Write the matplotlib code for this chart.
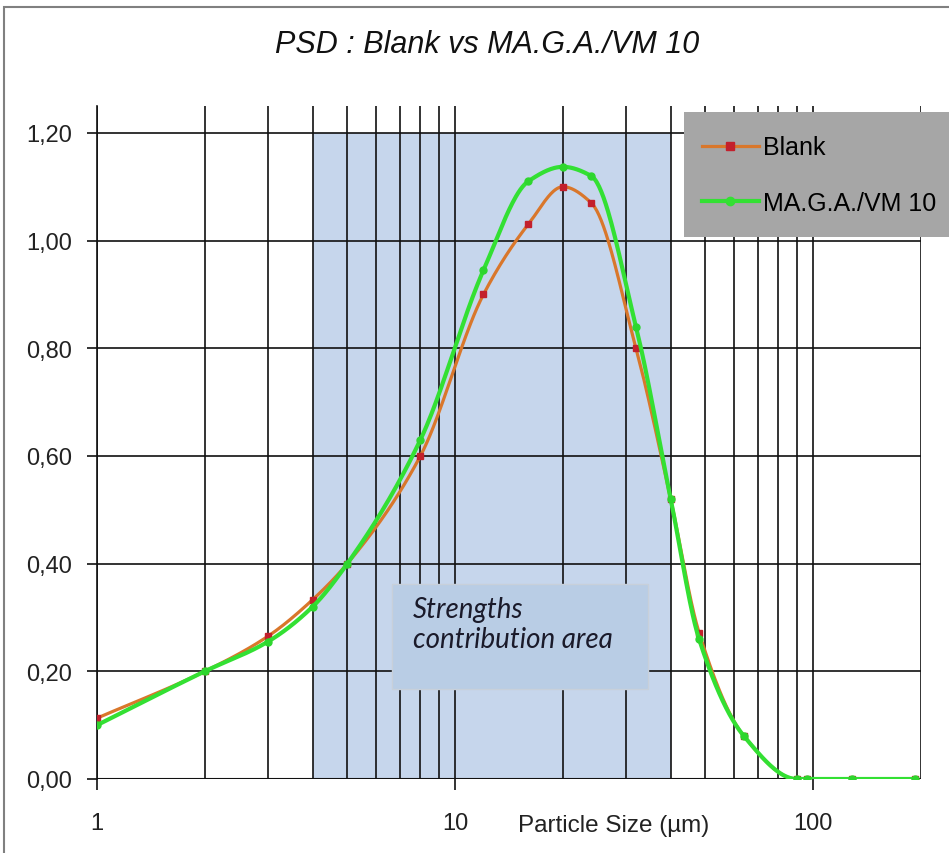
import numpy as np
import matplotlib
matplotlib.use("Agg")
import matplotlib.pyplot as plt
from matplotlib.patches import Rectangle
from matplotlib.ticker import FixedLocator, NullFormatter, FuncFormatter

# particle sizes (µm) and PSD values
sizes = [1, 2, 3, 4, 5, 8, 12, 16, 20, 24, 32, 40, 48, 64, 90, 96, 128, 192]
blank = [0.113, 0.20, 0.265, 0.333, 0.40, 0.60, 0.90, 1.03, 1.10, 1.07,
         0.80, 0.52, 0.272, 0.08, 0.0, 0.0, 0.0, 0.0]
maga = [0.100, 0.20, 0.255, 0.320, 0.40, 0.63, 0.945, 1.11, 1.137, 1.12,
        0.84, 0.52, 0.260, 0.08, 0.0, 0.0, 0.0, 0.0]

y_ticks = [0.0, 0.2, 0.4, 0.6, 0.8, 1.0, 1.2]
x_major = [1, 10, 100]
x_grid = [1, 2, 3, 4, 5, 6, 7, 8, 9, 10, 20, 30, 40, 50, 60, 70, 80, 90, 100, 200]
zone = (4, 40)

plt.rcParams['font.family'] = ['Liberation Sans', 'DejaVu Sans']


def smooth(xs, ys, n=40):
    # monotone cubic (pchip) through the points, in log-x space
    x = np.log10(np.asarray(xs, float))
    y = np.asarray(ys, float)
    h = np.diff(x)
    d = np.diff(y) / h
    m = np.zeros_like(y)
    for i in range(1, len(y) - 1):
        if d[i - 1] * d[i] > 0:
            w1 = 2 * h[i] + h[i - 1]
            w2 = h[i] + 2 * h[i - 1]
            m[i] = (w1 + w2) / (w1 / d[i - 1] + w2 / d[i])
    m[0], m[-1] = d[0], d[-1]
    out_x, out_y = [], []
    for i in range(len(x) - 1):
        t = np.linspace(0, 1, n, endpoint=False)
        h00 = 2 * t ** 3 - 3 * t ** 2 + 1
        h10 = t ** 3 - 2 * t ** 2 + t
        h01 = -2 * t ** 3 + 3 * t ** 2
        h11 = t ** 3 - t ** 2
        out_x.extend(x[i] + t * h[i])
        out_y.extend(h00 * y[i] + h10 * h[i] * m[i] + h01 * y[i + 1] + h11 * h[i] * m[i + 1])
    out_x.append(x[-1])
    out_y.append(y[-1])
    return 10 ** np.array(out_x), np.array(out_y)


fig = plt.figure(figsize=(9.49, 8.54), dpi=100)
ax = fig.add_axes([97 / 949, 1 - 780 / 854, (921 - 97) / 949, (780 - 107) / 854])
ax.set_xscale('log')
ax.set_xlim(1, 200)
ax.set_ylim(0, 1.25)

# outer frame of the picture
fig.patches.append(Rectangle((4 / 949, -0.05), 2, 1 - 8 / 854 + 0.05,
                             transform=fig.transFigure, fill=False,
                             edgecolor='#808080', lw=1.5))

# shaded strength zone
ax.add_patch(Rectangle((zone[0], 0), zone[1] - zone[0], 1.2,
                       facecolor='#c6d6ec', edgecolor='none', zorder=0.2))

# grid
for xv in x_grid:
    ax.axvline(xv, color='#111111', lw=1.2, zorder=0.5)
for yv in y_ticks[1:]:
    ax.axhline(yv, color='#111111', lw=1.2, zorder=0.5)
ax.axhline(0, color='#111111', lw=1.5, zorder=0.5)

for s in ['top', 'right', 'bottom']:
    ax.spines[s].set_visible(False)
ax.spines['left'].set_color('#111111')
ax.spines['left'].set_linewidth(1.2)

ax.xaxis.set_major_locator(FixedLocator(x_major))
ax.xaxis.set_minor_locator(FixedLocator([]))
ax.xaxis.set_minor_formatter(NullFormatter())
ax.xaxis.set_major_formatter(FuncFormatter(lambda v, p: f'{v:g}'))
ax.set_yticks(y_ticks)
ax.yaxis.set_major_formatter(FuncFormatter(lambda v, p: f'{v:.2f}'.replace('.', ',')))
ax.tick_params(axis='x', length=8, width=1.2, pad=16, labelsize=17, colors='#111111')
ax.tick_params(axis='y', length=7, width=1.2, pad=11, labelsize=17, colors='#111111')
for lbl in ax.get_xticklabels() + ax.get_yticklabels():
    lbl.set_color('#222222')

# text box
ax.add_patch(Rectangle((0.358, 0.134), 0.311, 0.156, transform=ax.transAxes,
                       facecolor='#b9cde5', edgecolor='#c8d0da', lw=1, zorder=1.5))
ax.text(0.383, 0.272, 'Strengths\ncontribution area', transform=ax.transAxes,
        ha='left', va='top', fontsize=20, style='italic', family=['Lato', 'DejaVu Sans'],
        color='#1a1a2a', linespacing=1.2, zorder=2)

# curves
bx, by = smooth(sizes, blank)
gx, gy = smooth(sizes, maga)
ax.plot(bx, by, color='#d9772b', lw=2.3, zorder=3)
ax.plot(sizes, blank, ls='none', marker='s', ms=5, color='#c3202c', zorder=3.1)
ax.plot(gx, gy, color='#33e033', lw=3, zorder=3.2)
ax.plot(sizes, maga, ls='none', marker='o', ms=5, color='#2ed62e', zorder=3.3)

ax.text(0.627, -0.068, 'Particle Size (µm)', transform=ax.transAxes,
        ha='center', va='center', fontsize=17.5, color='#222222')

fig.text(487 / 949, 1 - 45 / 854, 'PSD : Blank vs MA.G.A./VM 10', ha='center',
         va='center', fontsize=22, style='italic', color='#111111')

# legend
fig.patches.append(Rectangle((684 / 949, 1 - 238 / 854), 0.4, 125 / 854,
                             transform=fig.transFigure, facecolor='#a6a6a6',
                             edgecolor='none', zorder=5))
h1, = ax.plot([], [], color='#d9772b', lw=2.3, marker='s', ms=6, mfc='#c3202c', mec='#c3202c')
h2, = ax.plot([], [], color='#33e033', lw=3, marker='o', ms=6)
leg = fig.legend([h1, h2], ['Blank', 'MA.G.A./VM 10'], loc='center left',
                 bbox_to_anchor=(689 / 949, 1 - 176 / 854), frameon=False,
                 fontsize=18, handlelength=2.3, handletextpad=0.15,
                 labelspacing=1.25, borderpad=0)
leg.set_zorder(6)

fig.savefig('out.png', dpi=100)
